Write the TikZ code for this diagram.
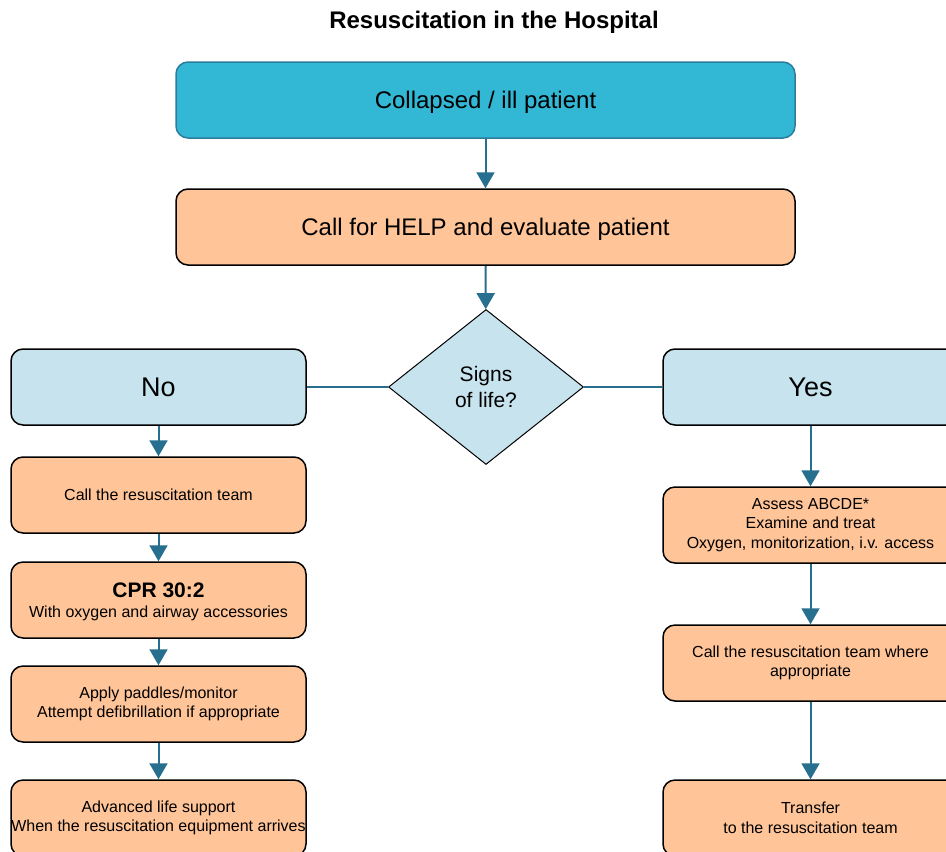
\documentclass[tikz,border=0pt]{standalone}
\usepackage{fontspec}
\setmainfont{Liberation Sans}
\usetikzlibrary{shapes.geometric,arrows.meta}
\definecolor{headcyan}{HTML}{32B7D5}
\definecolor{headedge}{HTML}{2E7C9C}
\definecolor{stepfill}{HTML}{FFC599}
\definecolor{branchfill}{HTML}{C7E4EE}
\definecolor{flowline}{HTML}{276F8E}
\begin{document}
\begin{tikzpicture}[x=0.5pt, y=-0.5pt,
  every node/.style={font=\fontsize{8}{9.75}\selectfont},
  card/.style={draw, rounded corners=6pt, line width=0.75pt, align=center, inner xsep=0pt,
    minimum width=147.5pt, minimum height=38pt, fill=stepfill},
  wide/.style={card, minimum width=309.5pt, text depth=0pt, font=\fontsize{12}{14}\selectfont},
  branch/.style={card, fill=branchfill, text depth=0pt, font=\fontsize{13.5}{15}\selectfont},
  flow/.style={-{Triangle[width=9pt,length=8pt]}, flowline, line width=1pt},
  link/.style={flowline, line width=1pt}]
\clip (0,0) rectangle (946,851);
% title
\node[font=\fontsize{12}{14}\selectfont\bfseries] (title) at (494,22) {Resuscitation in the Hospital};
% top of the chart
\node[wide, fill=headcyan, draw=headedge] (collapse) at (485.5,100) {Collapsed / ill patient};
\node[wide] (help) at (485.5,227) {Call for HELP and evaluate patient};
\node[diamond, draw, fill=branchfill, line width=0.5pt, inner sep=0pt, minimum width=97.5pt,
  minimum height=77.5pt, align=center, font=\fontsize{10.5}{13}\selectfont] (signs) at (486,387) {Signs\\of life?};
\node[branch] (no) at (158.5,387) {No};
\node[branch] (yes) at (810.5,387) {Yes};
% left column: no signs of life
\node[card] (team) at (158.5,495) {Call the resuscitation team};
\node[card, text depth=0pt] (cpr) at (158.5,600) {{\fontsize{10.5}{11}\selectfont\bfseries CPR 30:2}\\With oxygen and airway accessories};
\node[card] (paddles) at (158.5,704) {Apply paddles/monitor\\Attempt defibrillation if appropriate};
\node[card] (als) at (158.5,818) {Advanced life support\\When the resuscitation equipment arrives};
% right column: signs of life
\node[card] (assess) at (810.5,525) {Assess ABCDE*\\Examine and treat\\Oxygen, monitorization, i.v. access};
\node[card] (teamwhere) at (810.5,663) {Call the resuscitation team where\\appropriate};
\node[card] (transfer) at (810.5,818) {Transfer\\to the resuscitation team};
% connectors
\draw[flow] (collapse) -- (help);
\draw[flow] (help) -- (signs);
\draw[link] (signs) -- (no);
\draw[link] (signs) -- (yes);
\draw[flow] (no) -- (team);
\draw[flow] (team) -- (cpr);
\draw[flow] (cpr) -- (paddles);
\draw[flow] (paddles) -- (als);
\draw[flow] (yes) -- (assess);
\draw[flow] (assess) -- (teamwhere);
\draw[flow] (teamwhere) -- (transfer);
\end{tikzpicture}
\end{document}
